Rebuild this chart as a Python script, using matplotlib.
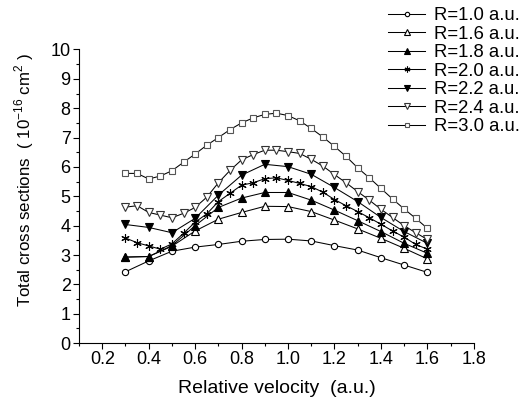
import numpy as np
import matplotlib
matplotlib.use("Agg")
import matplotlib.pyplot as plt
from matplotlib.ticker import MultipleLocator

plt.rcParams['font.family'] = ['Liberation Sans', 'DejaVu Sans']
plt.rcParams['mathtext.fontset'] = 'custom'
plt.rcParams['mathtext.rm'] = 'Liberation Sans'

# velocity grids (a.u.)
v_coarse = [0.3, 0.4, 0.5, 0.6, 0.7, 0.8, 0.9, 1.0, 1.1, 1.2, 1.3, 1.4, 1.5, 1.6]
v_fine = [0.3, 0.35, 0.4, 0.45, 0.5, 0.55, 0.6, 0.65, 0.7, 0.75, 0.8, 0.85, 0.9, 0.95,
          1.0, 1.05, 1.1, 1.15, 1.2, 1.25, 1.3, 1.35, 1.4, 1.45, 1.5, 1.55, 1.6]

# total cross sections (1e-16 cm^2)
r10 = [2.43, 2.80, 3.13, 3.27, 3.36, 3.47, 3.53, 3.54, 3.48, 3.32, 3.17, 2.91, 2.66, 2.41]
r16 = [2.93, 2.95, 3.30, 3.82, 4.22, 4.45, 4.66, 4.65, 4.48, 4.19, 3.89, 3.57, 3.23, 2.87]
r18 = [2.93, 2.95, 3.32, 4.00, 4.62, 4.94, 5.13, 5.13, 4.87, 4.53, 4.17, 3.80, 3.40, 3.06]
r20 = [3.58, 3.42, 3.31, 3.20, 3.38, 3.74, 4.12, 4.40, 4.82, 5.10, 5.38, 5.46, 5.60, 5.63,
       5.54, 5.44, 5.33, 5.14, 4.89, 4.68, 4.48, 4.27, 4.05, 3.82, 3.61, 3.36, 3.20]
r22 = [4.04, 3.94, 3.76, 4.25, 5.04, 5.72, 6.09, 6.01, 5.75, 5.30, 4.82, 4.28, 3.80, 3.40]
r24 = [4.63, 4.68, 4.45, 4.36, 4.27, 4.42, 4.62, 4.97, 5.46, 5.88, 6.24, 6.42, 6.57, 6.57,
       6.52, 6.46, 6.26, 6.03, 5.74, 5.46, 5.16, 4.87, 4.56, 4.28, 4.00, 3.76, 3.53]
r30 = [5.78, 5.78, 5.59, 5.69, 5.87, 6.16, 6.44, 6.74, 7.00, 7.27, 7.50, 7.67, 7.79, 7.83,
       7.75, 7.57, 7.31, 7.02, 6.70, 6.36, 5.97, 5.63, 5.27, 4.91, 4.57, 4.25, 3.91]

series = [
    ("R=1.0 a.u.", v_coarse, r10, "o", "white", "black", 4.5),
    ("R=1.6 a.u.", v_coarse, r16, "^", "white", "black", 5.5),
    ("R=1.8 a.u.", v_coarse, r18, "^", "black", "black", 5.5),
    ("R=2.0 a.u.", v_fine, r20, (6, 2, 0), "black", "black", 6),
    ("R=2.2 a.u.", v_coarse, r22, "v", "black", "black", 5.5),
    ("R=2.4 a.u.", v_fine, r24, "v", "white", "#333333", 5.5),
    ("R=3.0 a.u.", v_fine, r30, "s", "white", "#555555", 4.5),
]

fig = plt.figure(figsize=(5.27, 3.99), dpi=100)
ax = fig.add_axes([0.150, 0.140, 0.749, 0.736])

for label, x, y, m, fc, ec, ms in series:
    ax.plot(x, y, color="black", lw=0.75, marker=m, markersize=ms,
            markerfacecolor=fc, markeredgecolor=ec, markeredgewidth=0.8, label=label)

ax.set_xlim(0.1, 1.8)
ax.set_ylim(0, 10)
ax.xaxis.set_minor_locator(MultipleLocator(0.1))
ax.yaxis.set_major_locator(MultipleLocator(1))
ax.yaxis.set_minor_locator(MultipleLocator(0.5))
ticks = np.arange(0.2, 1.81, 0.2)
ax.set_xticks(ticks)
ax.set_xticklabels([f"{t:.1f}" for t in ticks])
ax.spines['top'].set_visible(False)
ax.spines['right'].set_visible(False)
ax.tick_params(which='major', direction='out', length=4, width=0.8, labelsize=13, pad=2)
ax.tick_params(which='minor', direction='out', length=2, width=0.8)

ax.set_xlabel("Relative velocity  (a.u.)", fontsize=14, labelpad=8)
ax.set_ylabel("Total cross sections  ( 10$^{-16}$ cm$^2$ )", fontsize=12.2)
ax.yaxis.set_label_coords(-0.108, 0.555)

fig.legend(loc='upper right', bbox_to_anchor=(1.0, 1.0), frameon=False, fontsize=13.3,
           handlelength=2.0, handletextpad=0.45, labelspacing=0.08, markerscale=0.7,
           borderpad=0.1, borderaxespad=0.3)

fig.savefig("out.png", dpi=100)
